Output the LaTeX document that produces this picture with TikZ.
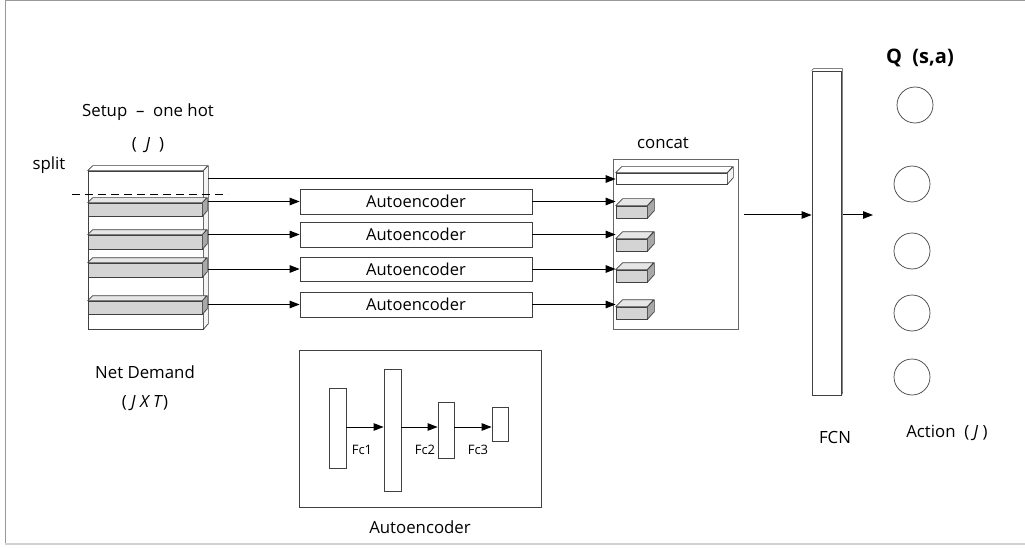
\documentclass[tikz,border=0pt]{standalone}
\usepackage{fontspec}
\setmainfont{Open Sans}
\usetikzlibrary{arrows.meta}
\definecolor{edge}{HTML}{404040}
\definecolor{gfront}{HTML}{D4D4D4}
\definecolor{gtop}{HTML}{E6E6E6}
\definecolor{gside}{HTML}{A8A8A8}
\definecolor{wfront}{HTML}{FFFFFF}
\definecolor{wtop}{HTML}{FFFFFF}
\definecolor{wside}{HTML}{F4F4F4}
\newcommand{\mycube}[7]{%
  \node[draw=edge, fill=#7front, minimum width={#4-#2}, minimum height={#5-#3}, inner sep=0pt, line width=0.7pt] (#1) at ({(#2+#4)/2},{(#3+#5)/2}) {};
  \filldraw[fill=#7top, draw=edge, line width=0.7pt, line join=round] (#1.north west) -- ++(#6,-#6) -- ++({#4-#2},0) -- (#1.north east) -- cycle;
  \filldraw[fill=#7side, draw=edge, line width=0.7pt, line join=round] (#1.north east) -- ++(#6,-#6) -- ++(0,{#5-#3}) -- (#1.south east) -- cycle;
}
\tikzset{
  txt/.style={font=\fontsize{16.8}{20}\selectfont, inner sep=0pt},
  small/.style={font=\fontsize{13}{15}\selectfont, inner sep=0pt},
  aebox/.style={draw=edge, line width=0.7pt, minimum width=232pt, inner sep=0pt, font=\fontsize{16.5}{19}\selectfont},
  arr/.style={-{Triangle[length=10pt,width=7.5pt]}, line width=1pt, black},
  bar/.style={draw=edge, fill=white, line width=0.8pt, inner sep=0pt},
  neuron/.style={circle, draw=edge, line width=0.7pt, minimum size=36pt, inner sep=0pt},
  panel/.style={draw=edge, line width=0.8pt, inner sep=0pt}
}
\begin{document}
\begin{tikzpicture}[x=1pt,y=-1pt]
\useasboundingbox (0,0) rectangle (1025,548);
% frame
\draw[gray!80, line width=1pt] (5,544) -- (5,1) -- (1025,1);
\draw[gray!35, line width=2pt] (5,544) -- (1025,544);

% input block
\mycube{nd}{88}{171}{203}{329}{5}{w}
\mycube{b1}{88}{203}{202}{216}{5}{g}
\mycube{b2}{88}{235}{202}{249}{5}{g}
\mycube{b3}{88}{263}{202}{277}{5}{g}
\mycube{b4}{88}{301}{202}{314}{5}{g}
\draw[line width=1pt, dash pattern=on 8pt off 5pt] (72,195) -- (228,195);

\node[txt] (setup) at (148,112) {Setup\ \ –\ \ one hot};
\node[txt] (setupj) at (148,145) {(\ \ \textit{J}\ \ )};
\node[txt] (split) at (49,165) {split};
\node[txt] (netd) at (145,372) {Net Demand};
\node[txt] (netdj) at (145,403) {(\ \textit{J X T})};

% autoencoder boxes
\node[aebox, minimum height=25pt] (ae1) at (416,201.5) {Autoencoder};
\node[aebox, minimum height=25pt] (ae2) at (416,234.5) {Autoencoder};
\node[aebox, minimum height=24pt] (ae3) at (416,269) {Autoencoder};
\node[aebox, minimum height=25pt] (ae4) at (416,304.5) {Autoencoder};

% concat
\node[panel, draw=gray!80!black, minimum width=125pt, minimum height=170pt] (concat) at (675.5,244) {};
\node[txt] (concatl) at (663,143) {concat};
\mycube{c0}{616}{173}{727}{184}{6}{w}
\mycube{c1}{616}{206}{647}{218}{7}{g}
\mycube{c2}{616}{239}{647}{251}{7}{g}
\mycube{c3}{616}{270}{647}{282}{7}{g}
\mycube{c4}{616}{307}{647}{319}{7}{g}

% arrows from input
\coordinate (s0) at (208,179);
\coordinate (s1) at (208,201.5);
\coordinate (s2) at (208,234.5);
\coordinate (s3) at (208,269);
\coordinate (s4) at (208,304.5);
\draw[arr] (s0) -- (s0 -| c0.west);
\draw[arr] (s1) -- (ae1.west);
\draw[arr] (s2) -- (ae2.west);
\draw[arr] (s3) -- (ae3.west);
\draw[arr] (s4) -- (ae4.west);
\draw[arr] (ae1.east) -- (ae1.east -| c1.west);
\draw[arr] (ae2.east) -- (ae2.east -| c2.west);
\draw[arr] (ae3.east) -- (ae3.east -| c3.west);
\draw[arr] (ae4.east) -- (ae4.east -| c4.west);

% FCN
\node[panel, fill=white, minimum width=29pt, minimum height=324pt] (fcn) at (826.5,233) {};
\draw[edge, line width=0.6pt] (fcn.north west) -- ++(2,-2) -- ++(29,0) -- ++(0,324) -- (fcn.south east);
\node[txt] (fcnl) at (835,437) {FCN};
\coordinate (cf) at (744,215);
\draw[arr] (cf) -- (cf -| fcn.west);
\coordinate (fo) at (873,215);
\draw[arr] (fo -| fcn.east) ++(2,0) -- (fo);

% outputs
\node[neuron] (q1) at (915,105) {};
\node[neuron] (q2) at (912,184) {};
\node[neuron] (q3) at (912,251) {};
\node[neuron] (q4) at (912,313) {};
\node[neuron] (q5) at (912,377) {};
\node[font=\fontsize{20}{24}\selectfont\bfseries, inner sep=0pt] (ql) at (920,58) {Q\ \ (s,a)};
\node[txt] (act) at (947,433) {Action\ \ (\ \textit{J}\ )};

% autoencoder detail
\node[panel, minimum width=242pt, minimum height=157pt] (aed) at (420,428.5) {};
\node[txt] (aedl) at (420,527) {Autoencoder};
\node[bar, minimum width=17pt, minimum height=80pt] (l1) at (337.5,428) {};
\node[bar, minimum width=17pt, minimum height=122pt] (l2) at (392.5,430) {};
\node[bar, minimum width=16pt, minimum height=56pt] (l3) at (446,430) {};
\node[bar, minimum width=16pt, minimum height=34pt] (l4) at (500,424) {};
\coordinate (a1) at (346,427);
\draw[arr] (a1) -- (a1 -| l2.west);
\draw[arr] (a1 -| l2.east) -- (a1 -| l3.west);
\draw[arr] (a1 -| l3.east) -- (a1 -| l4.west);
\node[small] (fc1) at (362,450) {Fc1};
\node[small] (fc2) at (425,450) {Fc2};
\node[small] (fc3) at (478,450) {Fc3};
\end{tikzpicture}
\end{document}
